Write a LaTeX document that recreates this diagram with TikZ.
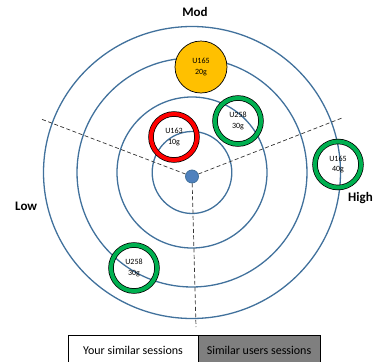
\documentclass[tikz,border=0pt]{standalone}
\usepackage{fontspec}
\setmainfont{Carlito}
\usetikzlibrary{calc,positioning}
\definecolor{cRingCol}{HTML}{41719C}
\definecolor{cDotCol}{HTML}{4F81BD}
\definecolor{cGreenCol}{HTML}{00B050}
\definecolor{cRedCol}{HTML}{FF0000}
\definecolor{cGoldCol}{HTML}{FFC000}
\definecolor{cGreyCol}{HTML}{7F7F7F}

\begin{document}
\begin{tikzpicture}[x=1pt,y=-1pt,
    ring/.style={draw=cRingCol, line width=1.3pt},
    axisline/.style={draw=black!80, line width=0.7pt, dash pattern=on 4pt off 2.5pt},
    bubtext/.style={align=center, inner sep=0pt, font=\fontsize{8}{10.5}\selectfont},
    levtext/.style={font=\fontsize{13}{15}\selectfont\bfseries, inner sep=0pt},
    legbox/.style={draw=black, line width=0.6pt, outer sep=0pt, minimum height=30pt,
        font=\fontsize{12}{14}\selectfont}]

    \useasboundingbox (0,0) rectangle (373,362);

    \coordinate (cCPt) at (192,172.5);
    \coordinate (cLowEndPt) at (41,119);
    \coordinate (cHighEndPt) at (342,118);
    \coordinate (cDownEndPt) at (196,327);

    % rings of the target
    \foreach \rx/\ry in {39.8/41, 75/75.5, 115/114.5, 148.5/146}
        \draw[ring] (cCPt) ellipse (\rx pt and \ry pt);

    \node[circle, fill=cDotCol, draw=cRingCol, line width=0.8pt, minimum width=13pt,
        minimum height=13pt, inner sep=0pt] (cOPt) at (192,176.5) {};

    \draw[axisline] (cOPt) -- (cLowEndPt);
    \draw[axisline] (cOPt) -- (cHighEndPt);
    \draw[axisline] (cOPt) -- (cDownEndPt);

    \newcommand{\sessionRing}[4]{%
        \draw[line width=5.5pt] (#2) circle (23pt);
        \draw[line width=4pt, draw=#3] (#2) circle (23pt);
        \node[bubtext] (#1) at (#2) {#4};}

    \fill[cGoldCol, draw=black, line width=0.7pt] (201,67) circle (26pt);
    \node[bubtext] (cUGoldPt) at (201,67) {U165\\20g};
    \sessionRing{cUGreenTopPt}{238,121}{cGreenCol}{U258\\30g}
    \sessionRing{cURedPt}{174,137}{cRedCol}{U163\\10g}
    \sessionRing{cUGreenRightPt}{338,164.5}{cGreenCol}{U165\\40g}
    \sessionRing{cUGreenLowPt}{134,268}{cGreenCol}{U258\\30g}

    \node[levtext, anchor=base] (cModPt) at (195,16.7) {Mod};
    \node[levtext, anchor=base west] (cLowPt) at (15,210) {Low};
    \node[levtext, anchor=base west] (cHighPt) at (348,201.7) {High};

    \node[legbox, fill=white, minimum width=130pt, anchor=north west] (cYoursPt) at (68,335)
        {Your similar sessions};
    \node[legbox, fill=cGreyCol, minimum width=122pt, right=0pt of cYoursPt] (cOthersPt)
        {Similar users sessions};
\end{tikzpicture}
\end{document}
